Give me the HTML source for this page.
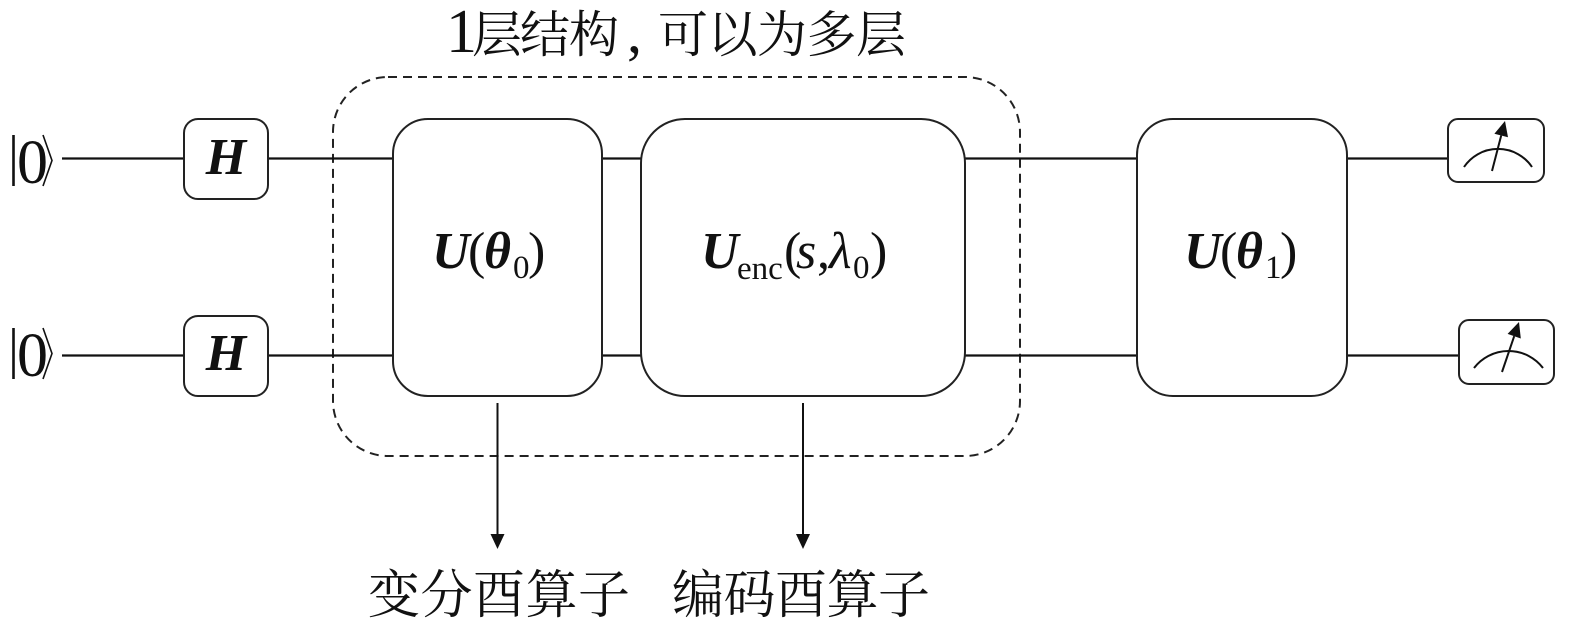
<!DOCTYPE html>
<html>
<head>
<meta charset="utf-8">
<style>
  html, body { margin: 0; padding: 0; background: #ffffff; }
  svg { display: block; }
  .lat { font-family: "Liberation Serif", "Noto Serif CJK SC", serif; }
  .cjk { font-family: "Liberation Serif", "Noto Serif CJK SC", "Noto Sans CJK SC", serif; }
</style>
</head>
<body>
<svg width="1575" height="620" viewBox="0 0 1575 620" xmlns="http://www.w3.org/2000/svg">
  <rect x="0" y="0" width="1575" height="620" fill="#fff"/>

  <!-- Title -->
  <text class="cjk" y="52" font-size="50" fill="#111">
    <tspan x="446" font-size="62" font-family="Liberation Serif">1</tspan><tspan x="472">层</tspan><tspan x="520">结</tspan><tspan x="569">构</tspan><tspan x="627" font-size="60" font-family="Liberation Serif">,</tspan><tspan x="658">可</tspan><tspan x="707.5">以</tspan><tspan x="757">为</tspan><tspan x="806.5">多</tspan><tspan x="856">层</tspan>
  </text>

  <!-- Dashed enclosure -->
  <rect x="333" y="77" width="687" height="379" rx="55" ry="55" fill="none" stroke="#222" stroke-width="2" stroke-dasharray="9 6"/>

  <!-- wires -->
  <g stroke="#111" stroke-width="2.3" fill="none">
    <line x1="62" y1="158.5" x2="184" y2="158.5"/>
    <line x1="268" y1="158.5" x2="393" y2="158.5"/>
    <line x1="602" y1="158.5" x2="641" y2="158.5"/>
    <line x1="965" y1="158.5" x2="1137" y2="158.5"/>
    <line x1="1347" y1="158.5" x2="1448" y2="158.5"/>

    <line x1="62" y1="355.5" x2="184" y2="355.5"/>
    <line x1="268" y1="355.5" x2="393" y2="355.5"/>
    <line x1="602" y1="355.5" x2="641" y2="355.5"/>
    <line x1="965" y1="355.5" x2="1137" y2="355.5"/>
    <line x1="1347" y1="355.5" x2="1459" y2="355.5"/>
  </g>

  <!-- |0> labels -->
  <g stroke="#111" fill="none">
    <line x1="13.5" y1="135" x2="13.5" y2="186" stroke-width="2.6"/>
    <polyline points="43,135 52,160.5 43,186" stroke-width="1.6"/>
    <line x1="13.5" y1="328" x2="13.5" y2="379" stroke-width="2.6"/>
    <polyline points="43,328 52,353.5 43,379" stroke-width="1.6"/>
  </g>
  <text class="lat" x="17" y="183" font-size="62" fill="#111">0</text>
  <text class="lat" x="17" y="376" font-size="62" fill="#111">0</text>

  <!-- H gates -->
  <g fill="#fff" stroke="#222" stroke-width="2">
    <rect x="184" y="119" width="84" height="80" rx="14" ry="14"/>
    <rect x="184" y="316" width="84" height="80" rx="14" ry="14"/>
  </g>
  <text class="lat" x="226" y="174" font-size="52" font-weight="bold" font-style="italic" text-anchor="middle" fill="#111">H</text>
  <text class="lat" x="226" y="370" font-size="52" font-weight="bold" font-style="italic" text-anchor="middle" fill="#111">H</text>

  <!-- Big boxes -->
  <g fill="#fff" stroke="#222" stroke-width="2">
    <rect x="393" y="119" width="209" height="277" rx="35" ry="35"/>
    <rect x="641" y="119" width="324" height="277" rx="44" ry="44"/>
    <rect x="1137" y="119" width="210" height="277" rx="36" ry="36"/>
  </g>

  <!-- U(theta0) -->
  <text class="lat" y="268" font-size="52" fill="#111">
    <tspan x="432" font-weight="bold" font-style="italic">U</tspan><tspan x="468">(</tspan><tspan x="484" font-weight="bold" font-style="italic">θ</tspan><tspan x="513" font-size="33" dy="10">0</tspan><tspan x="528" dy="-10">)</tspan>
  </text>

  <!-- U_enc(s, lambda0) -->
  <text class="lat" y="268" font-size="52" fill="#111">
    <tspan x="701" font-weight="bold" font-style="italic">U</tspan><tspan x="737" font-size="33" dy="11">enc</tspan><tspan x="784" dy="-11">(</tspan><tspan x="796" font-style="italic">s</tspan><tspan x="817">,</tspan><tspan x="829" font-style="italic">λ</tspan><tspan x="853" font-size="33" dy="10">0</tspan><tspan x="870" dy="-10">)</tspan>
  </text>

  <!-- U(theta1) -->
  <text class="lat" y="268" font-size="52" fill="#111">
    <tspan x="1184" font-weight="bold" font-style="italic">U</tspan><tspan x="1220">(</tspan><tspan x="1236" font-weight="bold" font-style="italic">θ</tspan><tspan x="1265" font-size="33" dy="10">1</tspan><tspan x="1280" dy="-10">)</tspan>
  </text>

  <!-- Arrows -->
  <g stroke="#111" stroke-width="2">
    <line x1="497.5" y1="403" x2="497.5" y2="536"/>
    <line x1="803" y1="403" x2="803" y2="536"/>
  </g>
  <g fill="#111">
    <polygon points="490.5,534 504.5,534 497.5,549"/>
    <polygon points="796,534 810,534 803,549"/>
  </g>

  <!-- Bottom labels -->
  <text class="cjk" x="368" y="613" font-size="52" textLength="262" lengthAdjust="spacing" fill="#111">变分酉算子</text>
  <text class="cjk" x="672" y="613" font-size="52" textLength="258" lengthAdjust="spacing" fill="#111">编码酉算子</text>

  <!-- Measurement boxes -->
  <g fill="#fff" stroke="#222" stroke-width="2">
    <rect x="1448" y="119" width="96" height="63" rx="10" ry="10"/>
    <rect x="1459" y="320" width="95" height="64" rx="10" ry="10"/>
  </g>
  <g fill="none" stroke="#111" stroke-width="2">
    <path d="M1464,167 A41,41 0 0 1 1532,167"/>
    <line x1="1492" y1="171" x2="1501.2" y2="135.5"/>
    <path d="M1474,368 A43.5,43.5 0 0 1 1543,368"/>
    <line x1="1502" y1="372" x2="1514.2" y2="336.2"/>
  </g>
  <g fill="#111">
    <polygon points="1505,121 1508,137.3 1494.4,133.7"/>
    <polygon points="1519,322 1520.8,338.5 1507.6,333.9"/>
  </g>
</svg>
</body>
</html>
